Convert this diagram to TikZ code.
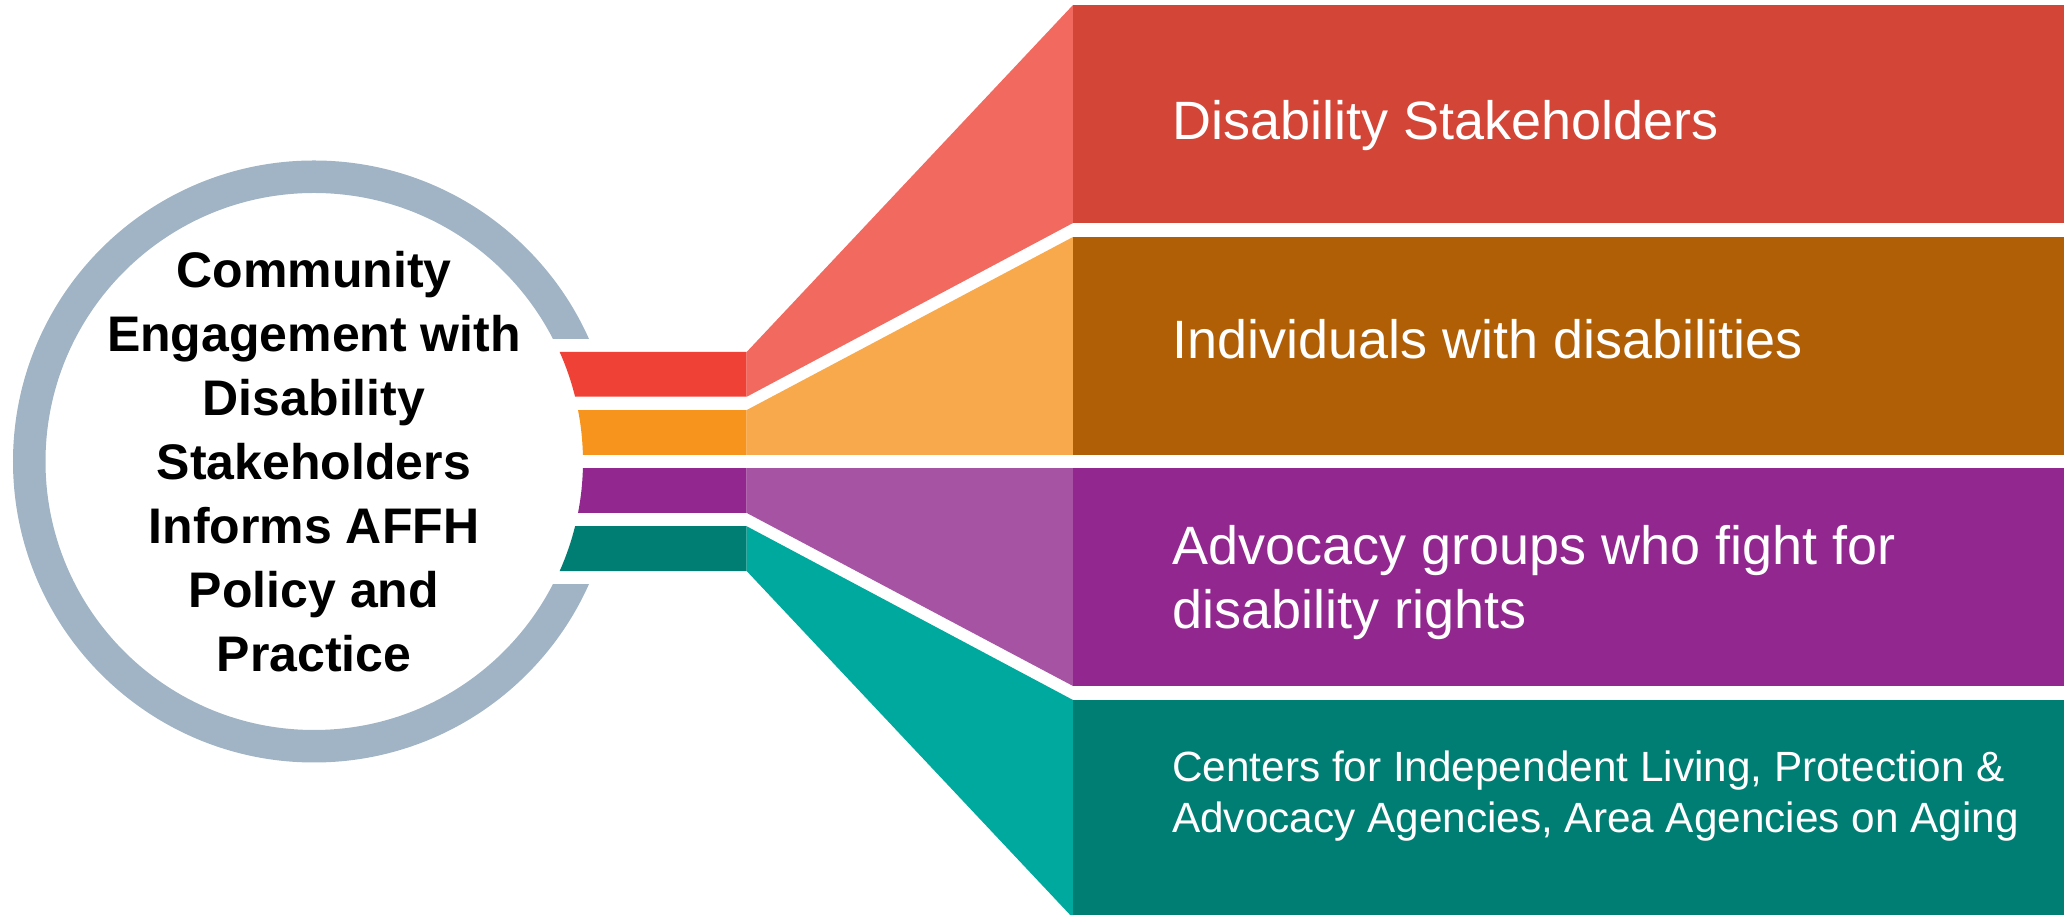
\documentclass[tikz,border=0pt]{standalone}
\usepackage{fontspec}
\setmainfont{Liberation Sans}
\usetikzlibrary{calc}
\definecolor{ringc}{HTML}{A0B4C5}
\definecolor{redbar}{HTML}{EF4136}
\definecolor{redfun}{HTML}{F26A5F}
\definecolor{redbox}{HTML}{D34536}
\definecolor{orabar}{HTML}{F7941D}
\definecolor{orafun}{HTML}{F8A94B}
\definecolor{orabox}{HTML}{B05F07}
\definecolor{purbar}{HTML}{92278F}
\definecolor{purfun}{HTML}{A653A4}
\definecolor{purbox}{HTML}{92278F}
\definecolor{teabar}{HTML}{007E74}
\definecolor{teafun}{HTML}{00A99D}
\definecolor{teabox}{HTML}{007E74}
\begin{document}
\begin{tikzpicture}[x=1pt,y=1pt,
  boxtext/.style={anchor=base west,inner sep=0pt,text=white,font=\fontsize{54}{63}\selectfont},
  smalltext/.style={anchor=base west,inner sep=0pt,text=white,font=\fontsize{42.3}{51}\selectfont},
  centertext/.style={anchor=base,inner sep=0pt,text=black,font=\fontsize{50}{64}\selectfont\bfseries}]
\useasboundingbox (0,0) rectangle (2064,915);
\clip (0,0) rectangle (2064,915);
\coordinate (C) at (314,453.5);
% ring
\draw[line width=32.5pt,color=ringc] (C) circle[radius=284.75pt];
\fill[white] (540,330.9) rectangle (640,576.1);
% bars
\fill[redbar] (746.7,563.05) -- ($(C)+(24.03:269pt)$) arc[start angle=24.03,end angle=13.93,radius=269pt] -- (746.7,518.25) -- cycle;
\fill[orabar] (746.7,504.95) -- ($(C)+(11.03:269pt)$) arc[start angle=11.03,end angle=1.42,radius=269pt] -- (746.7,460.15) -- cycle;
\fill[purbar] (746.7,446.85) -- ($(C)+(-1.42:269pt)$) arc[start angle=-1.42,end angle=-11.03,radius=269pt] -- (746.7,402.05) -- cycle;
\fill[teabar] (746.7,388.75) -- ($(C)+(-13.93:269pt)$) arc[start angle=-13.93,end angle=-24.03,radius=269pt] -- (746.7,343.95) -- cycle;
% funnels
\fill[redfun] (746.7,563.05) -- (1073,910) -- (1073,692) -- (746.7,518.25) -- cycle;
\fill[orafun] (746.7,504.95) -- (1073,678) -- (1073,460.15) -- (746.7,460.15) -- cycle;
\fill[purfun] (746.7,446.85) -- (1073,446.85) -- (1073,229) -- (746.7,402.05) -- cycle;
\fill[teafun] (746.7,388.75) -- (1073,215) -- (1073,-3) -- (746.7,343.95) -- cycle;
% boxes
\fill[redbox] (1073,910) rectangle (2070,692);
\fill[orabox] (1073,678) rectangle (2070,460.15);
\fill[purbox] (1073,446.85) rectangle (2070,229);
\fill[teabox] (1073,215) rectangle (2070,-5);
% box texts
\node[boxtext] (t1) at (1172,775.7) {Disability Stakeholders};
\node[boxtext] (t2) at (1172,556.7) {Individuals with disabilities};
\node[boxtext] (t3a) at (1172,350) {Advocacy groups who fight for};
\node[boxtext] (t3b) at (1172,286.7) {disability rights};
\node[smalltext] (t4a) at (1172,133.3) {Centers for Independent Living, Protection \&};
\node[smalltext] (t4b) at (1172,82.3) {Advocacy Agencies, Area Agencies on Aging};
% center text
\node[centertext] (c1) at (314,627) {Community};
\node[centertext] (c2) at (314,563) {Engagement with};
\node[centertext] (c3) at (314,499) {Disability};
\node[centertext] (c4) at (314,435) {Stakeholders};
\node[centertext] (c5) at (314,371) {Informs AFFH};
\node[centertext] (c6) at (314,307) {Policy and};
\node[centertext] (c7) at (314,243) {Practice};
\end{tikzpicture}
\end{document}
